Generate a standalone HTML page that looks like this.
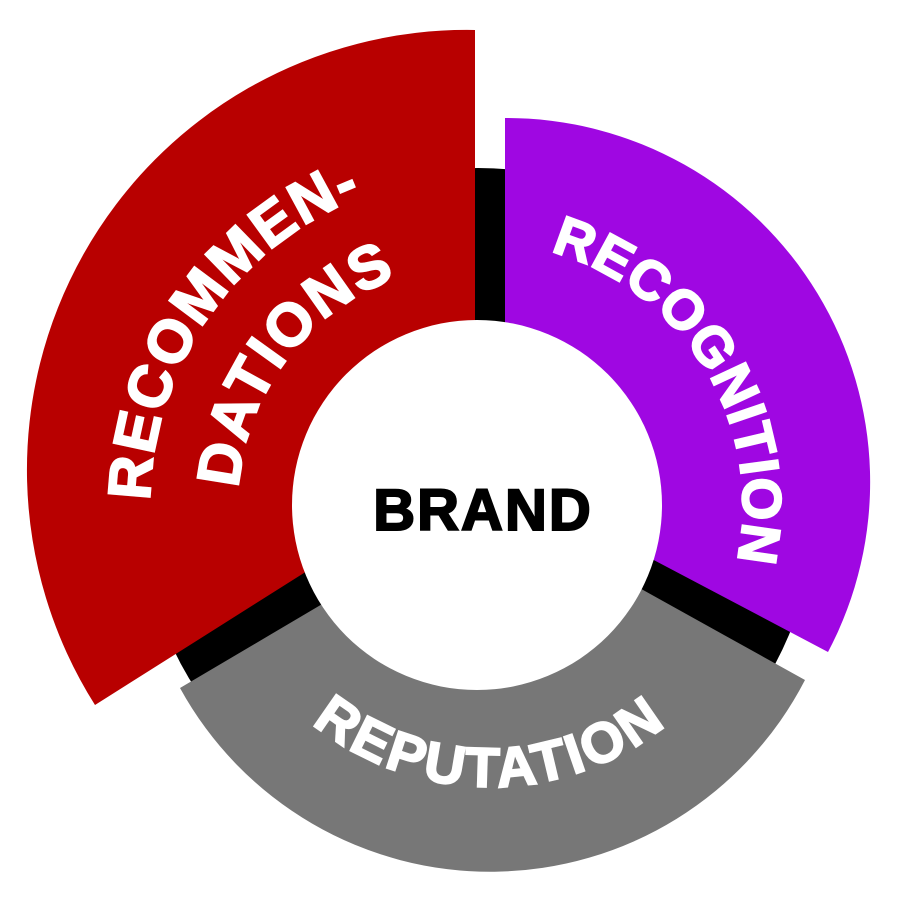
<!DOCTYPE html>
<html><head><meta charset="utf-8"><style>
html,body{margin:0;padding:0;background:#fff;}
svg{display:block;}
text{font-family:"Liberation Sans",sans-serif;font-weight:bold;}
</style></head><body>
<svg width="900" height="900" viewBox="0 0 900 900" xmlns="http://www.w3.org/2000/svg">
<defs>
<path id="pRec" d="M246.7,738.3 A330 330 0 0 1 619.5,205.9"/>
<path id="pDat" d="M303.0,670.0 A242 242 0 0 1 589.9,289.4"/>
<path id="pRecog" d="M385.7,259.5 A263 263 0 0 1 652.5,703.5"/>
<path id="pRep" d="M212.3,554.0 A282 282 0 0 0 767.7,554.0"/>
</defs>
<rect width="900" height="900" fill="#fff"/>
<circle cx="478" cy="505" r="337" fill="#000"/>
<path d="M475,30 A440 440 0 0 0 95,705 L467,470 L475,470 Z" fill="#b80000"/>
<path d="M505,118 A364 364 0 0 1 828,652 L506,482 L505,482 Z" fill="#9f07e2"/>
<path d="M180,688 A354 354 0 0 0 805,680 L490,505 Z" fill="#777777"/>
<circle cx="477" cy="505" r="185" fill="#fff"/>
<text x="483" y="530" font-size="58" text-anchor="middle" fill="#000" stroke="#000" stroke-width="2" letter-spacing="2">BRAND</text>
<text font-size="60" fill="#fff" stroke="#fff" stroke-width="2" letter-spacing="2"><textPath href="#pRec" startOffset="50%" text-anchor="middle">RECOMMEN-</textPath></text>
<text font-size="60" fill="#fff" stroke="#fff" stroke-width="2" letter-spacing="2"><textPath href="#pDat" startOffset="50%" text-anchor="middle">DATIONS</textPath></text>
<text font-size="55" fill="#fff" stroke="#fff" stroke-width="2" letter-spacing="1"><textPath href="#pRecog" startOffset="50%" text-anchor="middle">RECOGNITION</textPath></text>
<text font-size="56" fill="#fff" stroke="#fff" stroke-width="2" letter-spacing="3"><textPath href="#pRep" startOffset="50%" text-anchor="middle">REPUTATION</textPath></text>
</svg>
</body></html>
